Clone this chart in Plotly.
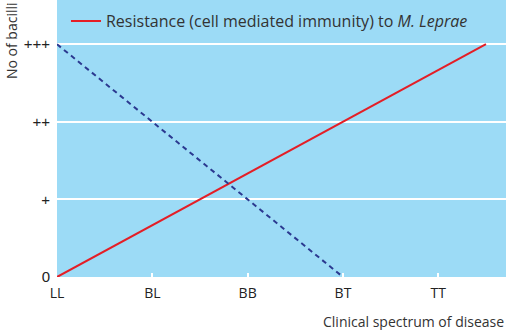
import plotly.graph_objects as go

categories = ["LL", "BL", "BB", "BT", "TT"]
ylabels = ["0", "+", "++", "+++"]
resistance_x = [0, 4.5]
resistance_y = [0, 3]
bacilli_x = [0, 3]
bacilli_y = [3, 0]

fig = go.Figure()
fig.add_trace(go.Scatter(x=resistance_x, y=resistance_y, mode="lines",
                         line=dict(color="#e41e26", width=2),
                         name="Resistance (cell mediated immunity) to <i>M. Leprae</i>"))
fig.add_trace(go.Scatter(x=bacilli_x, y=bacilli_y, mode="lines",
                         line=dict(color="#2b3990", width=2, dash="5px,4px"),
                         showlegend=False))

fig.update_layout(
    width=506, height=330,
    margin=dict(l=57, r=0, t=0, b=53),
    paper_bgcolor="white", plot_bgcolor="#9cdbf6",
    font=dict(family="Open Sans", size=14, color="#222222"),
    legend=dict(x=0.02, y=0.985, xanchor="left", yanchor="top",
                bgcolor="rgba(0,0,0,0)", font=dict(size=16, color="#333333")),
    xaxis=dict(range=[0, 4.71], tickvals=list(range(len(categories))), ticktext=categories,
               showgrid=False, zeroline=False, ticks="inside", tickcolor="white",
               ticklen=4, tickwidth=1.5, showline=False, ticklabelstandoff=6),
    yaxis=dict(range=[0, 3.57], tickvals=list(range(len(ylabels))), ticktext=ylabels,
               showgrid=True, gridcolor="white", gridwidth=1.5, zeroline=False,
               ticks="", showline=False, ticklabelstandoff=6,
               tickfont=dict(family="Liberation Sans", size=15, color="#222222")),
    annotations=[
        dict(text="No of bacilli", xref="paper", yref="paper", x=-57/449, y=1.0,
             xanchor="left", yanchor="top", textangle=-90, showarrow=False,
             font=dict(size=14, color="#333333"), xshift=0),
        dict(text="Clinical spectrum of disease", xref="paper", yref="paper", x=1.0, y=0,
             xanchor="right", yanchor="top", showarrow=False, yshift=-33,
             font=dict(size=14, color="#333333")),
    ],
)
fig.write_html("out.html")
